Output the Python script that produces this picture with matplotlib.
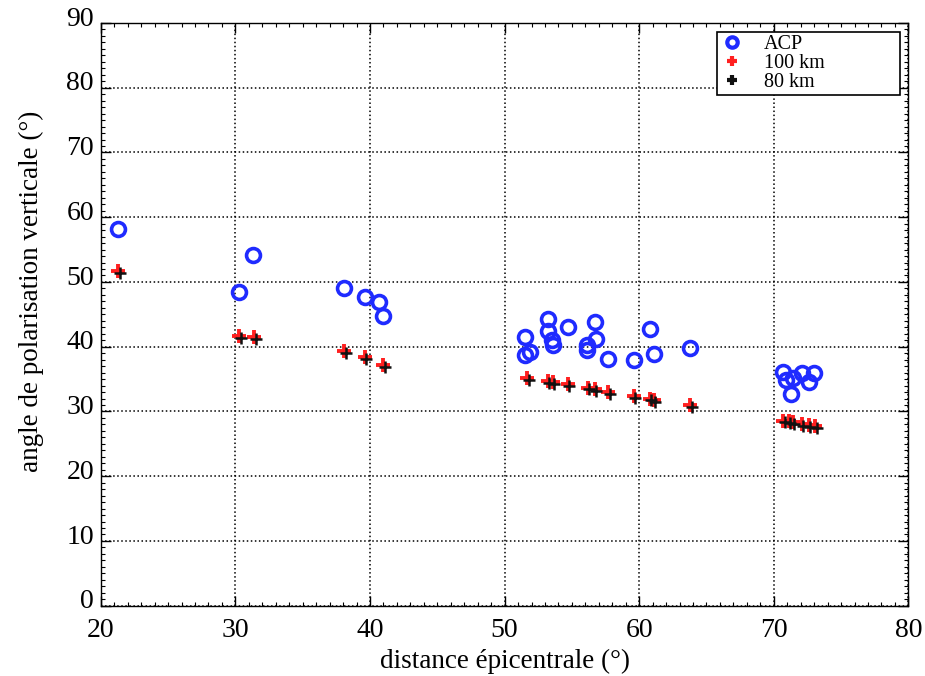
import matplotlib
matplotlib.use("Agg")
import matplotlib.pyplot as plt
import matplotlib.transforms as mtransforms
from matplotlib.ticker import MultipleLocator

plt.rcParams['font.family'] = ['Liberation Serif', 'DejaVu Serif']

acp_x = [21.3, 30.3, 31.3, 38.1, 39.6, 40.7, 41.0,
         51.5, 51.5, 51.9, 53.2, 53.2, 53.5, 53.6, 54.7, 56.7, 56.8, 56.1, 56.1,
         57.7, 59.6, 60.8, 61.1, 63.8,
         70.7, 70.9, 71.4, 72.1, 73.0, 72.6, 71.3]
acp_y = [58.2, 48.5, 54.2, 49.1, 47.7, 46.9, 44.8,
         41.5, 38.7, 39.2, 44.3, 42.4, 41.0, 40.3, 43.1, 43.8, 41.2, 40.3, 39.5,
         38.1, 38.0, 42.7, 38.9, 39.8,
         36.1, 34.9, 35.2, 36.0, 36.0, 34.6, 32.7]

km100_x = [21.3, 30.3, 31.4, 38.1, 39.6, 41.0,
           51.7, 53.2, 53.6, 54.7, 56.2, 56.7, 57.7, 59.6, 60.8, 61.1, 63.8,
           70.7, 71.1, 71.4, 72.1, 72.6, 73.1]
km100_y = [51.7, 41.6, 41.5, 39.4, 38.4, 37.1,
           35.1, 34.7, 34.5, 34.2, 33.7, 33.4, 33.0, 32.4, 32.0, 31.7, 31.0,
           28.6, 28.5, 28.3, 28.0, 27.9, 27.7]

km80_x = [21.4, 30.4, 31.5, 38.2, 39.7, 41.1,
          51.8, 53.3, 53.7, 54.8, 56.3, 56.8, 57.8, 59.7, 60.9, 61.2, 63.9,
          70.8, 71.2, 71.5, 72.2, 72.7, 73.2]
km80_y = [51.4, 41.3, 41.2, 39.1, 38.1, 36.8,
          34.8, 34.4, 34.2, 33.9, 33.4, 33.1, 32.7, 32.1, 31.7, 31.4, 30.7,
          28.3, 28.2, 28.0, 27.7, 27.6, 27.4]

fig = plt.figure(figsize=(9.25, 6.76), dpi=100)
ax = fig.add_axes([0.109, 0.104, 0.873, 0.862])

ax.plot(acp_x, acp_y, linestyle='none', marker='o', markersize=10,
        markerfacecolor='none', markeredgecolor='#1f2bff', markeredgewidth=2.6,
        label='ACP', zorder=3)
ax.plot(km100_x, km100_y, linestyle='none', marker='+', markersize=10,
        color='#ff2020', markeredgewidth=2.8, label='100 km', zorder=2)
ax.plot(km80_x, km80_y, linestyle='none', marker='+', markersize=9,
        color='#111111', markeredgewidth=1.8, label='80 km', zorder=2.5)

ax.set_xlim(20, 80)
ax.set_ylim(0, 90)
ax.xaxis.set_major_locator(MultipleLocator(10))
ax.yaxis.set_major_locator(MultipleLocator(10))
ax.xaxis.set_minor_locator(MultipleLocator(1))
ax.yaxis.set_minor_locator(MultipleLocator(1))
ax.tick_params(which='both', direction='in', top=True, right=True)
ax.tick_params(which='major', length=7, width=1, labelsize=20)
ax.tick_params(axis='x', which='major', pad=9)
ax.tick_params(axis='y', which='major', pad=5)
ax.tick_params(which='minor', length=3, width=0.8)
ax.grid(True, which='major', linestyle=':', color='black', linewidth=1.1)
for s in ax.spines.values():
    s.set_linewidth(1)

# y tick labels sit slightly above their ticks in the reference
offset = mtransforms.ScaledTranslation(0, 5 / 72, fig.dpi_scale_trans)
for lbl in ax.get_yticklabels():
    lbl.set_transform(lbl.get_transform() + offset)

ax.set_xlabel('distance épicentrale (°)', fontsize=19.5, labelpad=4)
ax.set_ylabel('angle de polarisation verticale (°)', fontsize=19.5)
ax.yaxis.set_label_coords(-0.070, 0.54)

leg = ax.legend(loc='upper right', fontsize=14.5, frameon=True, fancybox=False,
                edgecolor='black', framealpha=1, handlelength=1.2,
                handletextpad=1.0, borderpad=0.15, labelspacing=0.0,
                numpoints=1, markerscale=0.75,
                bbox_to_anchor=(0.763, 0.885, 0.227, 0.1), mode='expand',
                borderaxespad=0.0)
leg.get_frame().set_linewidth(1.2)
for h in leg.legend_handles:
    h.set_markeredgewidth(3)

fig.savefig('out.png', dpi=100)
